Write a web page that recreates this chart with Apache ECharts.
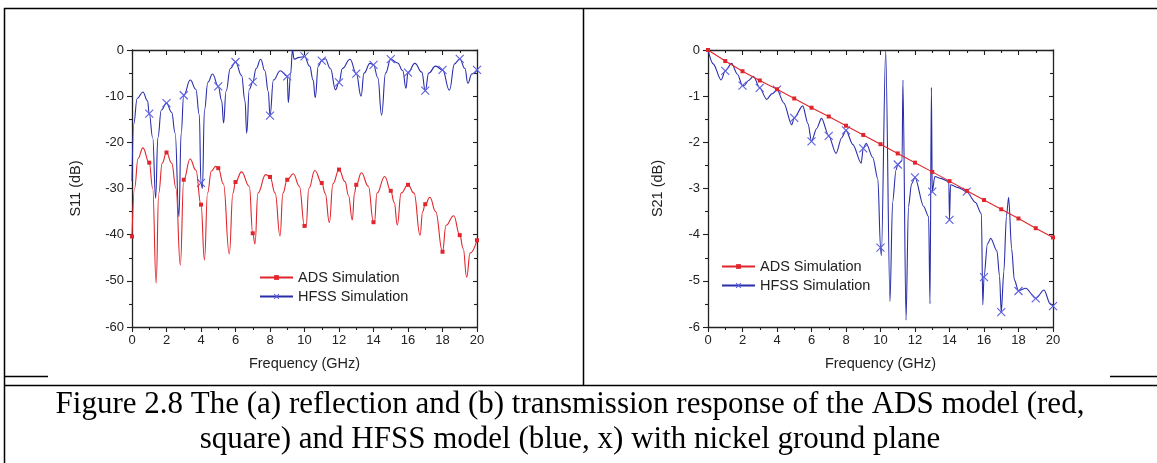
<!DOCTYPE html>
<html>
<head>
<meta charset="utf-8">
<title>Figure 2.8 - ADS vs HFSS, nickel ground plane</title>
<script src="https://cdn.jsdelivr.net/npm/echarts/dist/echarts.min.js"></script>
<style>
  html, body { margin: 0; padding: 0; background: #fff; }
  #chart { width: 1157px; height: 463px; }
</style>
</head>
<body>
<div id="chart"></div>
<script>
// (a) S11, ADS model
const s11AdsFreq = [0, 0.15, 0.35, 0.63, 1, 1.2, 1.4, 1.55, 1.75, 2, 2.3, 2.55, 2.8, 3, 3.37, 3.7, 4, 4.2, 4.38, 4.6, 4.85, 5, 5.3, 5.64, 5.85, 6, 6.35, 6.8, 7, 7.13, 7.3, 7.75, 8, 8.3, 8.58, 8.75, 9, 9.35, 9.7, 10, 10.09, 10.25, 10.6, 11, 11.2, 11.44, 11.65, 12, 12.35, 12.55, 12.77, 12.9, 13, 13.3, 13.7, 14, 14.05, 14.2, 14.65, 15, 15.2, 15.38, 15.6, 16, 16.35, 16.7, 16.85, 17, 17.27, 17.6, 18, 18.2, 18.65, 19, 19.2, 19.4, 19.6, 20]
const s11AdsDb = [-40.4, -30, -23.5, -21.2, -24.4, -30, -50.5, -31, -24.5, -22.2, -24.5, -30, -46.6, -28.1, -23.6, -26, -33.5, -45.5, -31, -26.2, -25.2, -25.6, -29, -44.2, -31, -28.6, -26.4, -29.5, -39.7, -42, -31, -27, -27.5, -31, -40.3, -31, -28.1, -26.8, -29.5, -38.1, -38.3, -30, -26.1, -28.8, -31, -37.4, -29, -25.9, -28.5, -31.5, -36.8, -31, -29.2, -26.6, -29.5, -37.3, -37.5, -31, -27.4, -30.5, -33, -37.9, -31, -29.2, -31, -40.1, -35, -33.4, -31.9, -35, -43.7, -38, -35.9, -40.1, -43, -49.2, -44, -41.2]

// (a) S11, HFSS model
const s11HfssFreq = [0, 0.1, 0.3, 0.63, 0.9, 1, 1.2, 1.37, 1.5, 1.7, 2, 2.3, 2.5, 2.72, 2.85, 3, 3.38, 3.7, 3.9, 4, 4.08, 4.2, 4.4, 4.67, 5, 5.2, 5.31, 5.45, 5.7, 6, 6.35, 6.55, 6.65, 6.8, 7, 7.2, 7.46, 7.7, 7.9, 8, 8.2, 8.6, 9, 9.06, 9.2, 9.3, 9.4, 9.7, 10, 10.3, 10.5, 10.62, 10.8, 11, 11.2, 11.5, 11.8, 12, 12.2, 12.64, 13, 13.28, 13.45, 13.8, 14, 14.25, 14.47, 14.7, 15, 15.4, 15.7, 15.88, 16, 16.4, 16.8, 17, 17.2, 17.6, 18, 18.4, 18.7, 19, 19.3, 19.47, 19.7, 20]
const s11HfssDb = [-28.4, -16, -10.5, -9.1, -11, -13.8, -19, -32.1, -19, -13, -11.5, -13.5, -18, -36.1, -18, -9.8, -6.5, -8.5, -14, -28.8, -30, -13, -7, -5.2, -7.9, -11, -15.8, -9, -4, -2.6, -5.5, -11, -18, -8.5, -6.9, -4, -2, -4.5, -9, -14.2, -6.5, -4.5, -5.7, -11.4, -5, 0, -2, -1.6, -1.4, -3.5, -6.5, -10.3, -3.5, -2.3, -1.9, -4, -8.6, -7, -4, -2, -5.1, -10, -5, -2.9, -3.2, -6, -14.1, -5, -2, -2.8, -4.5, -8.3, -4.9, -2.9, -4.8, -8.8, -5, -3.5, -4.3, -8.7, -3, -1.9, -4, -7.2, -5.2, -4.3]

// (b) S21, ADS model
const s21AdsFreq = [0, 1, 2, 3, 4, 5, 6, 7, 8, 9, 10, 11, 12, 13, 14, 15, 16, 17, 18, 19, 20]
const s21AdsDb = [0, -0.24, -0.46, -0.66, -0.85, -1.05, -1.25, -1.44, -1.64, -1.84, -2.04, -2.24, -2.44, -2.64, -2.84, -3.05, -3.25, -3.45, -3.65, -3.86, -4.06]

// (b) S21, HFSS model
const s21HfssFreq = [0, 0.3, 0.76, 1, 1.37, 1.7, 2, 2.1, 2.35, 2.63, 3, 3.4, 3.7, 4, 4.4, 4.85, 5, 5.49, 5.8, 6, 6.3, 6.58, 7, 7.42, 7.75, 8, 8.4, 8.88, 9, 9.17, 9.55, 9.85, 10, 10.05, 10.3, 10.55, 10.7, 10.9, 11, 11.25, 11.3, 11.48, 11.62, 11.8, 12, 12.5, 12.79, 12.87, 12.95, 13, 13.15, 13.5, 13.96, 14, 14.06, 14.5, 15, 15.5, 15.85, 15.93, 16, 16.2, 16.39, 16.75, 16.9, 17, 17.15, 17.3, 17.43, 17.6, 17.76, 18, 18.42, 19, 19.48, 19.84, 20]
const s21HfssDb = [0, -0.3, -0.65, -0.45, -0.29, -0.52, -0.77, -0.77, -0.66, -0.57, -0.82, -1.07, -0.95, -0.86, -1.15, -1.62, -1.47, -1.21, -1.6, -1.98, -1.7, -1.48, -1.86, -2.24, -1.9, -1.74, -2.05, -2.45, -2.13, -2.02, -2.33, -2.8, -4.28, -4.45, 0, -5.45, -3.3, -2.6, -2.48, -2.4, -0.65, -5.85, -3.4, -2.9, -2.76, -3.39, -3.61, -5.5, -0.81, -3.07, -2.74, -2.78, -2.85, -3.68, -2.92, -2.98, -3.07, -3.3, -3.55, -5.52, -4.92, -4.2, -4.08, -4.35, -4.9, -5.68, -4.8, -3.6, -3.19, -4.3, -4.98, -5.22, -5.16, -5.38, -5.2, -5.5, -5.55]

const SERIES_NAMES = ['ADS Simulation', 'HFSS Simulation']
const CAPTION = [
  'Figure 2.8 The (a) reflection and (b) transmission response of the ADS model (red,',
  'square) and HFSS model (blue, x) with nickel ground plane'
]

const FONT = '"Liberation Sans", Arial, sans-serif'
const INK = '#222'
const RED = '#e0262c'
const BLUE = '#2a2eaa'
const BLUE_MARK = '#5d61e0'
const CROSS = 'path://M0,0L10,10M10,0L0,10'

const zip = (xs, ys) => xs.map((x, i) => [x, ys[i]])
// markers only sit on the whole-GHz points
const markAt = (size, skipZero) => v =>
  Number.isInteger(v[0]) && !(skipZero && v[0] === 0) ? size : 0

const lineStyle = { color: INK, width: 1.3 }
const tickStyle = { color: INK, width: 1.1 }

// bottom + mirrored top x axis for a grid
function xAxes(grid) {
  const base = {
    type: 'value', gridIndex: grid, min: 0, max: 20, interval: 2,
    axisLine: { onZero: false, lineStyle },
    minorTick: { show: true, splitNumber: 2, length: 3, lineStyle: tickStyle },
    splitLine: { show: false }
  }
  return [
    {
      ...base, position: 'bottom',
      name: 'Frequency (GHz)', nameLocation: 'middle', nameGap: 29,
      nameTextStyle: { fontFamily: FONT, fontSize: 14.5, color: INK },
      axisTick: { inside: false, length: 5, lineStyle: tickStyle },
      axisLabel: { margin: 7, fontFamily: FONT, fontSize: 13, color: INK }
    },
    {
      ...base, position: 'top',
      axisTick: { inside: true, length: 5, lineStyle: tickStyle },
      axisLabel: { show: false }
    }
  ]
}

// left + mirrored right y axis for a grid
function yAxes(grid, name, min, interval, gap) {
  const base = {
    type: 'value', gridIndex: grid, min, max: 0, interval,
    axisLine: { onZero: false, lineStyle },
    minorTick: { show: true, splitNumber: 2, length: 3, lineStyle: tickStyle },
    splitLine: { show: false }
  }
  return [
    {
      ...base, position: 'left',
      name, nameLocation: 'middle', nameGap: gap,
      nameTextStyle: { fontFamily: FONT, fontSize: 14.5, color: INK },
      axisTick: { inside: false, length: 5, lineStyle: tickStyle },
      axisLabel: { margin: 8, fontFamily: FONT, fontSize: 13, color: INK }
    },
    {
      ...base, position: 'right',
      axisTick: { inside: true, length: 4, lineStyle: tickStyle },
      axisLabel: { show: false }
    }
  ]
}

function adsSeries(axis, data, smooth) {
  return {
    name: SERIES_NAMES[0], type: 'line', xAxisIndex: axis, yAxisIndex: axis,
    data, smooth, smoothMonotone: 'x',
    symbol: 'rect', symbolSize: markAt(4, false), showSymbol: true,
    lineStyle: { color: RED, width: 1.1 },
    itemStyle: { color: RED },
    emphasis: { disabled: true }, z: 3
  }
}

function hfssSeries(axis, data, smooth) {
  return {
    name: SERIES_NAMES[1], type: 'line', xAxisIndex: axis, yAxisIndex: axis,
    data, smooth, smoothMonotone: 'x',
    symbol: CROSS, symbolSize: markAt(8, true), showSymbol: true,
    lineStyle: { color: BLUE, width: 1.1 },
    itemStyle: { color: 'transparent', borderColor: BLUE_MARK, borderWidth: 1.1 },
    emphasis: { disabled: true }, z: 2
  }
}

function legendAt(left, top) {
  return {
    left, top, padding: 0, orient: 'vertical', selectedMode: false,
    itemWidth: 33, itemHeight: 6, itemGap: 4,
    textStyle: { fontFamily: FONT, fontSize: 14.5, color: INK },
    data: [
      { name: SERIES_NAMES[0], itemStyle: { color: RED } },
      { name: SERIES_NAMES[1], itemStyle: { color: 'transparent', borderColor: BLUE_MARK, borderWidth: 1.1 } }
    ]
  }
}

// table borders and caption
const rule = (x1, y1, x2, y2) => ({
  type: 'line', silent: true,
  shape: { x1, y1, x2, y2 },
  style: { stroke: '#000', lineWidth: 1.5 }
})
const captionLine = (text, y) => ({
  type: 'text', silent: true, x: 570, y,
  style: {
    text, fill: '#000', align: 'center', verticalAlign: 'middle',
    font: '31px "Liberation Serif", "Times New Roman", serif'
  }
})

const chart = echarts.init(document.getElementById('chart'), null, { renderer: 'canvas' })

chart.setOption({
  animation: false,
  backgroundColor: '#fff',
  grid: [
    { left: 132, top: 50, width: 345, height: 277 },
    { left: 708, top: 50, width: 345, height: 277 }
  ],
  xAxis: [...xAxes(0), ...xAxes(1)],
  yAxis: [...yAxes(0, 'S11 (dB)', -60, 10, 49), ...yAxes(1, 'S21 (dB)', -6, 1, 43)],
  legend: [legendAt(259, 270), legendAt(721, 259)],
  series: [
    // indices 0 and 2 are the bottom/left axes of each grid
    hfssSeries(0, zip(s11HfssFreq, s11HfssDb), 0.45),
    adsSeries(0, zip(s11AdsFreq, s11AdsDb), 0.45),
    hfssSeries(2, zip(s21HfssFreq, s21HfssDb), 0.3),
    adsSeries(2, zip(s21AdsFreq, s21AdsDb), false)
  ],
  graphic: [
    rule(4, 8.5, 1157, 8.5),
    rule(4.5, 8, 4.5, 463),
    rule(583.5, 8, 583.5, 386),
    rule(4, 385.5, 1157, 385.5),
    rule(5, 376.5, 48, 376.5),
    rule(1110, 376.5, 1157, 376.5),
    captionLine(CAPTION[0], 405),
    captionLine(CAPTION[1], 440)
  ]
})
</script>
</body>
</html>
